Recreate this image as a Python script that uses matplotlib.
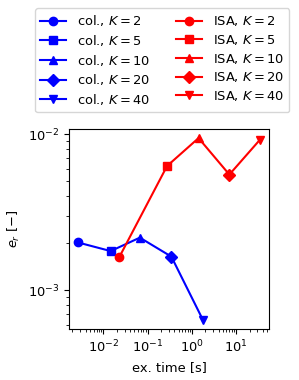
import matplotlib
matplotlib.use("Agg")
import matplotlib.pyplot as plt

K_VALUES = [2, 5, 10, 20, 40]
MARKERS = ['o', 's', '^', 'D', 'v']

# execution times [s] and relative errors
col_time = [2.68e-3, 1.46e-2, 6.65e-2, 0.343, 1.77]
col_err = [2.02e-3, 1.78e-3, 2.17e-3, 1.64e-3, 6.45e-4]

isa_time = [2.29e-2, 0.274, 1.41, 7.0, 34.3]
isa_err = [1.63e-3, 6.24e-3, 9.42e-3, 5.5e-3, 9.19e-3]

plt.rcParams['font.size'] = 9.4

fig = plt.figure(figsize=(2.99, 3.8), dpi=100)
ax = fig.add_axes([69 / 299, 1 - 329 / 380, 200 / 299, 200 / 380])


def plot_method(times, errs, name, color):
    ax.plot(times, errs, '-', color=color)
    for t, e, k, m in zip(times, errs, K_VALUES, MARKERS):
        ax.plot([t], [e], '-', marker=m, color=color,
                label=name + r", $K=" + str(k) + "$")


plot_method(col_time, col_err, "col.", "blue")
plot_method(isa_time, isa_err, "ISA", "red")

ax.set_xscale('log')
ax.set_yscale('log')
ax.set_xlabel("ex. time [s]")
ax.set_ylabel(r"$e_r$ [$-$]")

fig.legend(loc="upper left", ncol=2, bbox_to_anchor=(35 / 299, 1 - 8 / 380),
           borderaxespad=0, labelspacing=0.36)

fig.savefig("out.png", dpi=100)
